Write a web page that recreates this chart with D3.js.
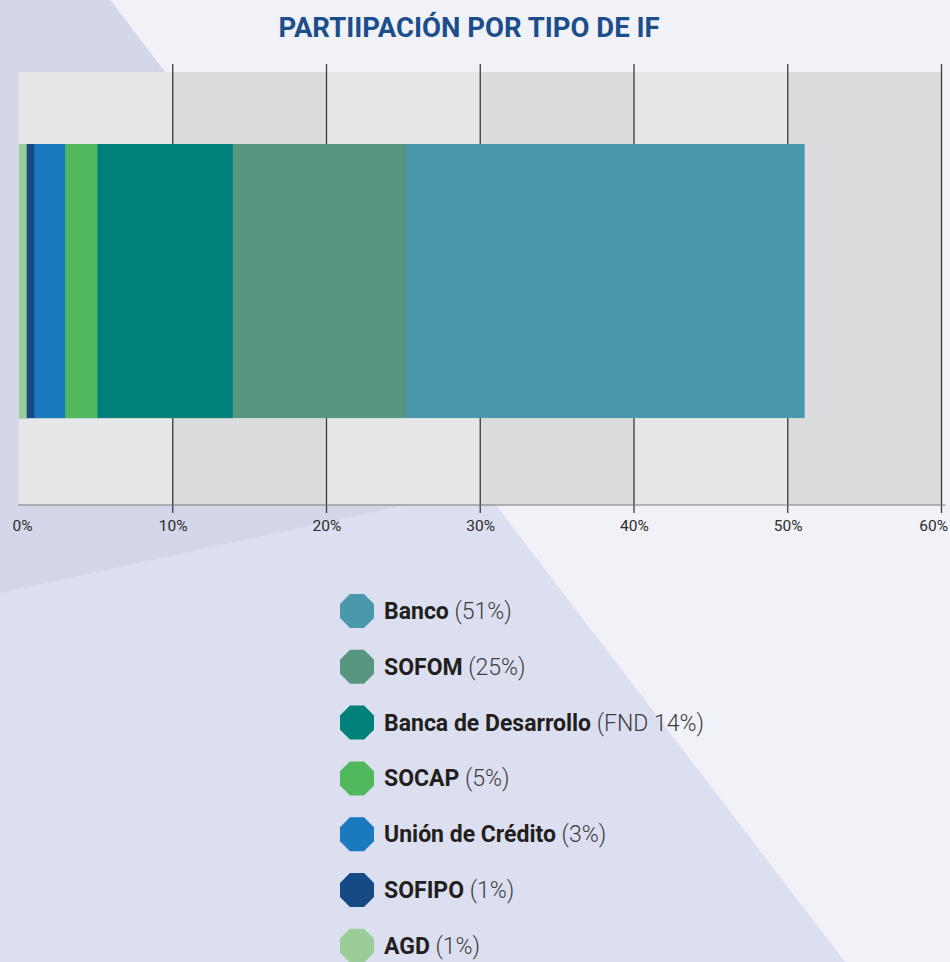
<html lang="es">
<head>
    <meta charset="UTF-8">
    <title>Participación por tipo de IF</title>
    <script src="https://d3js.org/d3.v7.min.js"></script>
    <style>
        body { margin: 0; background: #f1f2f8; }
        text { font-family: Roboto, "Noto Sans", sans-serif; }
        .x-axis text { font-size: 15.5px; fill: #2b2b2b; }
    </style>
</head>
<body>
    <div id="chart"></div>
    <script>
        // datos
        var categories = ["Banco", "SOFOM", "Banca de Desarrollo", "SOCAP", "Unión de Crédito", "SOFIPO", "AGD"];
        var values = [51.1, 25.2, 13.9, 5.1, 3.0, 1.0, 0.5];
        var legendNotes = ["(51%)", "(25%)", "(FND 14%)", "(5%)", "(3%)", "(1%)", "(1%)"];
        var colors = ["#4a98ac", "#57977f", "#00807a", "#51b85e", "#1b79be", "#164a84", "#9acd98"];
        var tickValues = [0, 10, 20, 30, 40, 50, 60];

        var width = 950, height = 962;
        var plotLeft = 19, plotRight = 941.5, plotTop = 72, plotBottom = 505;

        var svg = d3.select("#chart").append("svg")
            .attr("width", width)
            .attr("height", height);

        // fondo
        svg.append("rect").attr("width", width).attr("height", height).attr("fill", "#f1f2f8");
        svg.append("path")
            .attr("d", "M0,0L110,0L845,962L0,962Z")
            .attr("fill", "#dcdfef");
        svg.append("path")
            .attr("d", "M0,0L110,0L483,488L0,593Z")
            .attr("fill", "#d4d6ea");

        // titulo
        svg.append("text")
            .attr("x", 469)
            .attr("y", 37)
            .attr("text-anchor", "middle")
            .style("font-size", "27.5px")
            .attr("font-weight", "bold")
            .attr("fill", "#1b4e8a")
            .text("PARTIIPACIÓN POR TIPO DE IF");

        var xScale = d3.scaleLinear()
            .domain([0, 60])
            .range([plotLeft, plotRight]);

        var yScale = d3.scaleBand()
            .domain(["IF"])
            .range([plotTop, plotBottom])
            .paddingOuter(0.29)
            .align(0.453);

        // bandas alternadas
        svg.selectAll(".band")
            .data(tickValues.slice(0, -1))
            .enter()
            .append("rect")
            .attr("class", "band")
            .attr("x", function(d) { return xScale(d); })
            .attr("y", plotTop)
            .attr("width", function(d) { return xScale(d + 10) - xScale(d); })
            .attr("height", plotBottom - plotTop)
            .attr("fill", function(d, i) { return i % 2 == 0 ? "#e6e7e9" : "#dbdcde"; });

        // lineas de la rejilla
        svg.selectAll(".grid")
            .data(tickValues.slice(1))
            .enter()
            .append("line")
            .attr("class", "grid")
            .attr("x1", function(d) { return xScale(d); })
            .attr("x2", function(d) { return xScale(d); })
            .attr("y1", 64)
            .attr("y2", 513)
            .attr("stroke", "#3b3b3d")
            .attr("stroke-width", 1.3);

        // barras sobrepuestas, la mayor primero
        svg.selectAll(".bar")
            .data(values)
            .enter()
            .append("rect")
            .attr("class", "bar")
            .attr("x", xScale(0))
            .attr("y", yScale("IF"))
            .attr("width", function(d) { return xScale(d) - xScale(0); })
            .attr("height", yScale.bandwidth())
            .attr("fill", function(d, i) { return colors[i]; });

        // eje x
        var xAxis = d3.axisBottom(xScale)
            .tickValues(tickValues)
            .tickSize(0)
            .tickPadding(15)
            .tickFormat(function(d) { return d + "%"; });

        var gx = svg.append("g")
            .attr("class", "x-axis")
            .attr("transform", "translate(0," + plotBottom + ")")
            .call(xAxis)
            .attr("font-size", 15.5)
            .attr("font-family", "Roboto, sans-serif");
        gx.select(".domain")
            .attr("d", "M" + (plotLeft - 1) + ",0H" + (plotRight + 4))
            .attr("stroke", "#77787b");
        gx.selectAll(".tick text")
            .filter(function(d) { return d == 0; })
            .attr("dx", 3);
        gx.selectAll(".tick text")
            .filter(function(d) { return d == 60; })
            .attr("text-anchor", "end")
            .attr("dx", 6);

        // leyenda
        var octagon = d3.range(8).map(function(k) {
            var a = Math.PI / 8 + k * Math.PI / 4, r = 17 / Math.cos(Math.PI / 8);
            return [r * Math.cos(a), r * Math.sin(a)];
        });
        var legend = svg.selectAll(".legend")
            .data(categories)
            .enter()
            .append("g")
            .attr("class", "legend")
            .attr("transform", function(d, i) { return "translate(357," + (611 + i * 55.8) + ")"; });

        legend.append("path")
            .attr("d", d3.line()(octagon) + "Z")
            .attr("fill", function(d, i) { return colors[i]; });

        var label = legend.append("text")
            .attr("x", 27)
            .attr("y", 8)
            .style("font-size", "23px")
            .attr("fill", "#231f20");
        label.append("tspan")
            .attr("font-weight", "bold")
            .text(function(d) { return d; });
        label.append("tspan")
            .attr("font-weight", 300)
            .attr("fill", "#3c3c3e")
            .text(function(d, i) { return " " + legendNotes[i]; });
    </script>
</body>
</html>
